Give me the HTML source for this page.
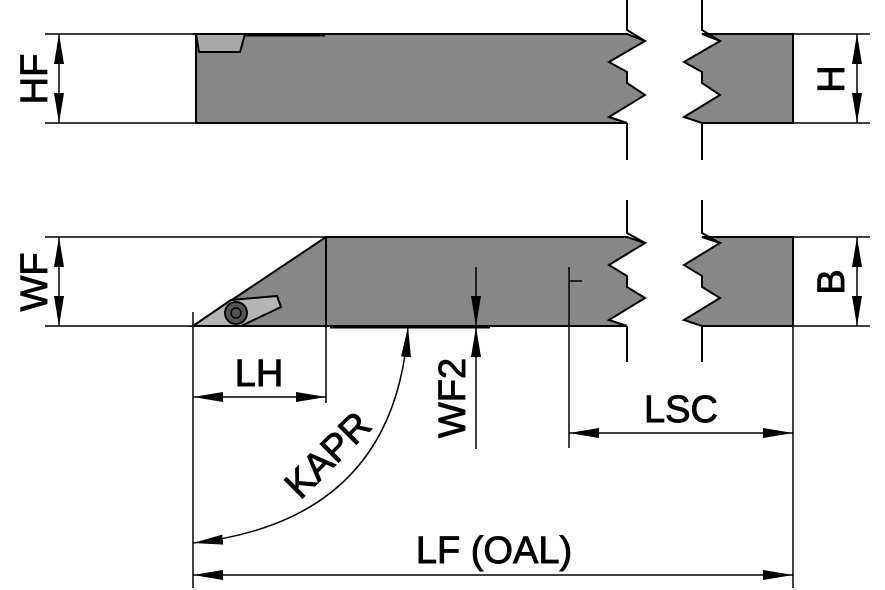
<!DOCTYPE html>
<html><head><meta charset="utf-8"><style>
html,body{margin:0;padding:0;background:#fff;}
svg{display:block}
text{font-family:"Liberation Sans",sans-serif;font-size:38px;fill:#000;stroke:#000;stroke-width:0.9px;}
</style></head><body>
<svg width="885" height="590" viewBox="0 0 885 590" xmlns="http://www.w3.org/2000/svg">
<defs>
<marker id="a" viewBox="0 0 30 10" refX="30" refY="5" markerWidth="30" markerHeight="10" markerUnits="userSpaceOnUse" orient="auto-start-reverse"><path d="M0,0 L30,5 L0,10 Z" fill="#000" stroke="none"/></marker>
</defs>
<g stroke="#000" stroke-width="1.5" fill="none">
<line x1="45" y1="34" x2="196" y2="34"/><line x1="45" y1="123" x2="196" y2="123"/>
<line x1="45" y1="237" x2="326" y2="237"/><line x1="45" y1="326" x2="193" y2="326"/>
<line x1="793" y1="34" x2="870" y2="34"/><line x1="793" y1="123" x2="870" y2="123"/>
<line x1="793" y1="237" x2="870" y2="237"/><line x1="793" y1="326" x2="870" y2="326"/>
<line x1="193" y1="312" x2="193" y2="588"/>
<line x1="326" y1="326" x2="326" y2="403"/>
<line x1="793" y1="326" x2="793" y2="588"/>
</g>
<!-- top view body -->
<path d="M196,34 L627,34 L645,41 L609,62 L627,72 L627,83 L645,95 L609,117 L627,123 L196,123 Z" fill="#878787" stroke="#000" stroke-width="2"/>
<path d="M702,34 L793,34 L793,123 L702,123 L684,117 L720,95 L702,83 L702,72 L684,62 L720,41 Z" fill="#878787" stroke="#000" stroke-width="2"/>
<path d="M193,34 L245,34 L242,45 L240,52 L199,52 L196,34 Z" fill="#a8a8a8" stroke="#000" stroke-width="2"/>
<line x1="245" y1="35" x2="325" y2="35" stroke="#000" stroke-width="3"/>
<!-- bottom view body -->
<path d="M193,326 L326,237 L627,237 L645,243 L609,265 L627,276 L627,287 L645,298 L609,320 L627,326 Z" fill="#878787" stroke="#000" stroke-width="2"/>
<line x1="326" y1="237" x2="326" y2="326" stroke="#000" stroke-width="2"/>
<path d="M702,237 L793,237 L793,326 L702,326 L684,320 L720,298 L702,287 L702,276 L684,265 L720,243 Z" fill="#878787" stroke="#000" stroke-width="2"/>
<path d="M193,326 L231,300 L277,296 L281,307 L241,326 Z" fill="#b5b5b5" stroke="#000" stroke-width="2"/>
<circle cx="236" cy="313" r="11" fill="#555" stroke="#000" stroke-width="2"/>
<circle cx="236" cy="313" r="5" fill="none" stroke="#000" stroke-width="1.5"/>
<line x1="330" y1="327" x2="490" y2="327" stroke="#000" stroke-width="3"/>
<g stroke="#000" stroke-width="1.5" fill="none">
<line x1="569" y1="267" x2="569" y2="448"/><line x1="569" y1="281" x2="582" y2="281"/>
</g>
<!-- break lines -->
<g stroke="#000" stroke-width="2" fill="none">
<path d="M627,0 V30 L645,41 M627,123 L627,160 M702,0 V30 L720,41 M702,123 L702,160"/>
<path d="M627,200 V233 L645,243 M627,326 V362 M702,200 V233 L720,243 M702,326 V362"/>
</g>
<g stroke="#000" stroke-width="1.5" fill="none">
<line x1="59" y1="34" x2="59" y2="123" marker-start="url(#a)" marker-end="url(#a)"/>
<line x1="59" y1="237" x2="59" y2="326" marker-start="url(#a)" marker-end="url(#a)"/>
<line x1="857" y1="34" x2="857" y2="123" marker-start="url(#a)" marker-end="url(#a)"/>
<line x1="857" y1="237" x2="857" y2="326" marker-start="url(#a)" marker-end="url(#a)"/>
<line x1="193" y1="397" x2="326" y2="397" marker-start="url(#a)" marker-end="url(#a)"/>
<line x1="569" y1="433" x2="793" y2="433" marker-start="url(#a)" marker-end="url(#a)"/>
<line x1="193" y1="575" x2="793" y2="575" marker-start="url(#a)" marker-end="url(#a)"/>
<line x1="476" y1="267" x2="476" y2="326" marker-end="url(#a)"/>
<line x1="476" y1="449" x2="476" y2="327" marker-end="url(#a)"/>
<path d="M193,543 Q395,520 408,327" marker-start="url(#a)" marker-end="url(#a)"/>
</g>
<text transform="translate(47,79) rotate(-90)" text-anchor="middle">HF</text>
<text transform="translate(47,282) rotate(-90)" text-anchor="middle">WF</text>
<text transform="translate(844,79) rotate(-90)" text-anchor="middle">H</text>
<text transform="translate(844,282) rotate(-90)" text-anchor="middle">B</text>
<text transform="translate(465,398) rotate(-90)" text-anchor="middle">WF2</text>
<text x="259" y="386" text-anchor="middle">LH</text>
<text x="681" y="422" text-anchor="middle">LSC</text>
<text x="494" y="563" text-anchor="middle">LF (OAL)</text>
<text transform="translate(337,464) rotate(-45)" text-anchor="middle">KAPR</text>
</svg>
</body></html>
